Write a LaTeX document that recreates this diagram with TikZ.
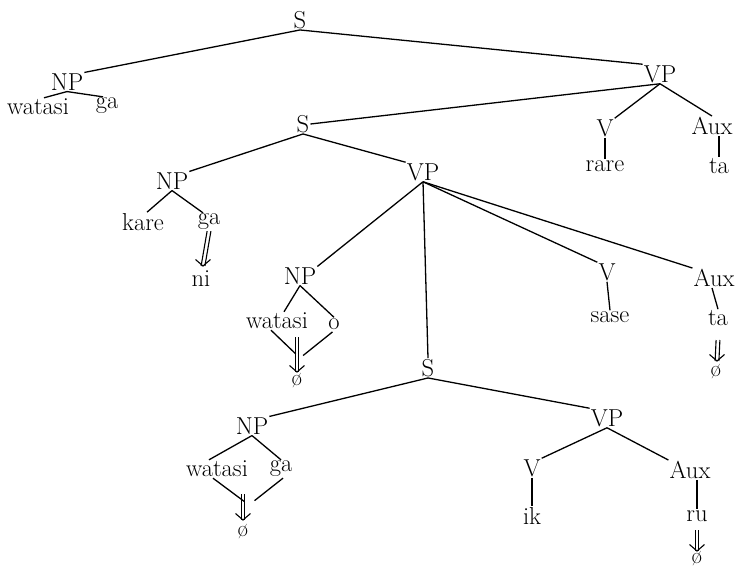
\documentclass[tikz,border=0pt]{standalone}
\usepackage{fontspec}
\usetikzlibrary{arrows.meta}
\newcommand\dblarr[2]{%
  \draw[dl] ([xshift=-1.9pt]#1) -- ([xshift=-1.9pt]#2);
  \draw[dl] ([xshift=1.9pt]#1) -- ([xshift=1.9pt]#2);
  \draw[dl,line join=miter] ([shift={(-7.5pt,6.5pt)}]#2) -- (#2) -- ([shift={(7.5pt,6.5pt)}]#2);}
\begin{document}
\begin{tikzpicture}[x=1pt,y=-1pt,
  lbl/.style={inner sep=1pt, font=\fontsize{24.5}{26}\selectfont},
  nul/.style={inner sep=0.5pt, font=\fontsize{23}{24}\selectfont},
  ln/.style={line width=1.3pt},
  dl/.style={line width=1.1pt}]
\useasboundingbox (0,0) rectangle (737,571);
% top level
\node[lbl] (s1) at (300,20) {S};
\node[lbl] (np1) at (67,82) {NP};
\node[lbl] (w1) at (38,107) {watasi};
\node[lbl] (g1) at (107,106) {ga};
\node[lbl] (vp1) at (660,74) {VP};
\node[lbl] (s2) at (303,124) {S};
\node[lbl] (v1) at (605,128) {V};
\node[lbl] (aux1) at (712,126) {Aux};
\node[lbl] (rare) at (605,166) {rare};
\node[lbl] (ta1) at (719,166) {ta};
% second S
\node[lbl] (np2) at (172,181) {NP};
\node[lbl] (vp2) at (423,172) {VP};
\node[lbl] (kare) at (143,222) {kare};
\node[lbl] (g2) at (209,222) {ga};
\node[lbl] (ni) at (201,279) {ni};
\coordinate (t2) at (203,266);
\node[lbl] (np3) at (300,276) {NP};
\node[lbl] (w3) at (277,321) {watasi};
\node[lbl] (o3) at (334,324) {o};
\node[nul] (z3) at (297,381) {ø};
\coordinate (c3) at (297,337);
\coordinate (t3) at (297,372);
\coordinate (m3) at (300,358);
\node[lbl] (v2) at (607,272) {V};
\node[lbl] (aux2) at (714,278) {Aux};
\node[lbl] (sase) at (610,317) {sase};
\node[lbl] (ta2) at (718,318) {ta};
\node[nul] (z2) at (716,372) {ø};
\coordinate (c2) at (718,340);
\coordinate (t2b) at (717,361);
% third S
\node[lbl] (s3) at (428,368) {S};
\node[lbl] (np4) at (252,426) {NP};
\node[lbl] (w4) at (217,469) {watasi};
\node[lbl] (g4) at (281,469) {ga};
\node[nul] (z4) at (243,532) {ø};
\coordinate (c4) at (243,494);
\coordinate (t4) at (243,520);
\coordinate (m4) at (249,505);
\node[lbl] (vp3) at (607,418) {VP};
\node[lbl] (v3) at (532,468) {V};
\node[lbl] (aux3) at (690,470) {Aux};
\node[lbl] (ik) at (532,516) {ik};
\node[lbl] (ru) at (697,516) {ru};
\node[nul] (z5) at (697,559) {ø};
\coordinate (c5) at (697,530);
\coordinate (t5) at (697,551);
% connectors
\draw[ln] (s1.south) -- (np1.north east);
\draw[ln] (s1.south) -- (vp1.north west);
\draw[ln] (np1.south) -- ([xshift=6pt]w1.north);
\draw[ln] (np1.south) -- ([xshift=-4pt]g1.north);
\draw[ln] (vp1.south) -- (s2.east);
\draw[ln] (vp1.south) -- (v1.north east);
\draw[ln] (vp1.south) -- (aux1.north);
\draw[ln] (v1.south) -- (rare.north);
\draw[ln] ([xshift=7pt]aux1.south) -- (ta1.north);
\draw[ln] (s2.south) -- (np2.north east);
\draw[ln] (s2.south) -- (vp2.north west);
\draw[ln] (np2.south) -- ([xshift=4pt]kare.north);
\draw[ln] (np2.south) -- ([xshift=-6pt]g2.north);
\dblarr{g2.south}{t2}
\draw[ln] (vp2.south) -- (np3.north east);
\draw[ln] (vp2.south) -- (s3.north);
\draw[ln] (vp2.south) -- (v2.north west);
\draw[ln] (vp2.south) -- (aux2.north west);
\draw[ln] (np3.south) -- ([xshift=7pt]w3.north);
\draw[ln] (np3.south) -- (o3.north);
\draw[ln,shorten >=6pt] ([xshift=-6pt]w3.south) -- (m3);
\draw[ln,shorten >=4pt,shorten <=2pt] (o3.south) -- (m3);
\dblarr{c3}{t3}
\draw[ln] (v2.south) -- (sase.north);
\draw[ln] ([xshift=-2pt]aux2.south) -- (ta2.north);
\dblarr{c2}{t2b}
\draw[ln] (s3.south) -- (np4.north east);
\draw[ln] (s3.south) -- (vp3.north west);
\draw[ln] (np4.south) -- ([xshift=-8pt]w4.north);
\draw[ln] (np4.south) -- (g4.north);
\draw[ln,shorten >=6pt] ([xshift=-4pt]w4.south) -- (m4);
\draw[ln,shorten >=7pt] ([xshift=2pt]g4.south) -- (m4);
\dblarr{c4}{t4}
\draw[ln] (vp3.south) -- (v3.north east);
\draw[ln] (vp3.south) -- (aux3.north west);
\draw[ln] (v3.south) -- (ik.north);
\draw[ln] ([xshift=7pt]aux3.south) -- (ru.north);
\dblarr{c5}{t5}
\end{tikzpicture}
\end{document}
